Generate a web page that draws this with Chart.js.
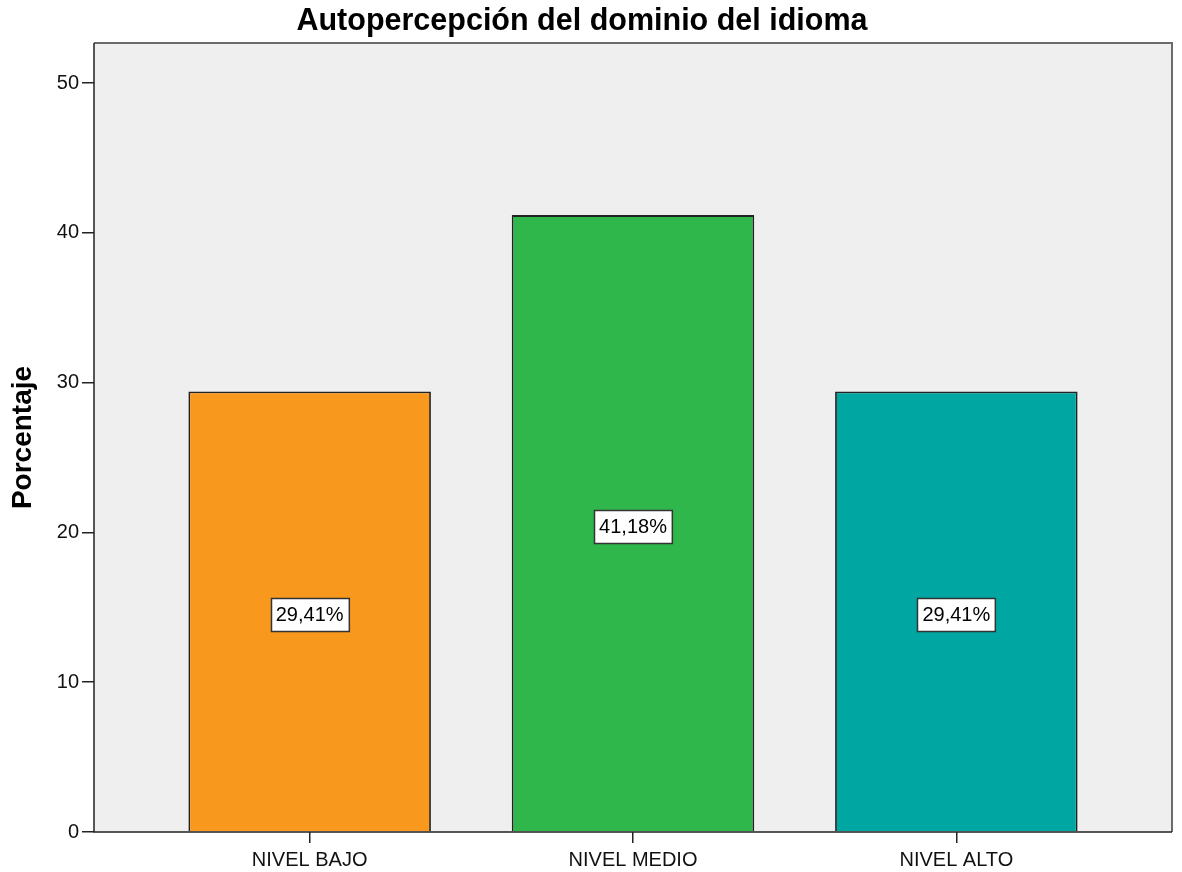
<!DOCTYPE html>
<html>
<head>
<meta charset="utf-8">
<script src="https://cdn.jsdelivr.net/npm/chart.js@4/dist/chart.umd.min.js"></script>
<style>
html,body{margin:0;padding:0;background:#fff;}
#wrap{width:1182px;height:872px;position:relative;}
</style>
</head>
<body>
<div id="wrap"><canvas id="c" width="1182" height="872"></canvas></div>
<script>
const titleText = 'Autopercepción del dominio del idioma';
const yTitle = 'Porcentaje';
const categories = ['NIVEL BAJO', 'NIVEL MEDIO', 'NIVEL ALTO'];
const values = [29.41, 41.18, 29.41];
const valueLabels = ['29,41%', '41,18%', '29,41%'];
const barColors = ['#F8981D', '#2FB74B', '#00A6A1'];
const yTicks = [0, 10, 20, 30, 40, 50];

const FONT = '"Liberation Sans", Arial, sans-serif';

const framePlugin = {
  id: 'frame',
  beforeDraw(chart) {
    const {ctx, chartArea: a} = chart;
    ctx.save();
    ctx.fillStyle = '#EFEFEF';
    ctx.fillRect(a.left, a.top, a.right - a.left, a.bottom - a.top);
    ctx.restore();
  },
  afterDraw(chart) {
    const {ctx, chartArea: a} = chart;
    ctx.save();
    ctx.strokeStyle = '#6b6b6b';
    ctx.lineWidth = 2;
    ctx.beginPath();
    ctx.moveTo(a.left, a.top);
    ctx.lineTo(a.right, a.top);
    ctx.lineTo(a.right, a.bottom);
    ctx.stroke();
    ctx.strokeStyle = '#222';
    ctx.lineWidth = 1.5;
    ctx.beginPath();
    ctx.moveTo(a.left, a.top);
    ctx.lineTo(a.left, a.bottom);
    ctx.lineTo(a.right, a.bottom);
    ctx.stroke();
    // title
    ctx.fillStyle = '#000';
    ctx.font = 'bold 30.5px ' + FONT;
    ctx.textAlign = 'center';
    ctx.textBaseline = 'middle';
    ctx.fillText(titleText, 582, 22);
    // value labels
    const meta = chart.getDatasetMeta(0);
    const ys = chart.scales.y;
    ctx.font = '20px ' + FONT;
    meta.data.forEach((bar, i) => {
      const cy = ys.getPixelForValue(values[i] / 2) + 3;
      const txt = valueLabels[i];
      const w = ctx.measureText(txt).width + 10;
      const h = 33;
      const x0 = Math.round(bar.x - w / 2) + 0.5;
      const y0 = Math.round(cy - h / 2) + 0.5;
      ctx.fillStyle = '#fff';
      ctx.fillRect(x0, y0, w, h);
      ctx.strokeStyle = '#333';
      ctx.lineWidth = 1.5;
      ctx.strokeRect(x0, y0, w, h);
      ctx.fillStyle = '#000';
      ctx.fillText(txt, bar.x, cy + 1);
    });
    ctx.restore();
  }
};

new Chart(document.getElementById('c'), {
  type: 'bar',
  data: {
    datasets: [{
      data: values.map((v, i) => ({x: i, y: v})),
      backgroundColor: barColors,
      borderColor: '#222',
      borderWidth: 1.8,
      borderSkipped: 'bottom',
      barPercentage: 0.75,
      categoryPercentage: 1.0
    }]
  },
  options: {
    responsive: false,
    animation: false,
    layout: {padding: {top: 43, right: 10, left: 0, bottom: 0}},
    plugins: {legend: {display: false}, tooltip: {enabled: false}, title: {display: false}},
    scales: {
      x: {
        type: 'linear',
        offset: false,
        min: -0.667,
        max: 2.667,
        afterBuildTicks(s) { s.ticks = categories.map((c, i) => ({value: i})); },
        afterFit(s) { s.height = 40; },
        ticks: {
          callback: (v) => categories[v],
          font: {family: FONT, size: 20},
          color: '#111',
          padding: 5,
          maxRotation: 0,
          autoSkip: false
        },
        grid: {offset: false, drawOnChartArea: false, drawTicks: true, tickLength: 11, color: '#222', lineWidth: 1.5},
        border: {display: false}
      },
      y: {
        min: 0,
        max: 52.67,
        afterBuildTicks(s) { s.ticks = yTicks.map(v => ({value: v})); },
        afterFit(s) { s.width = 94; },
        ticks: {
          font: {family: FONT, size: 20},
          color: '#111',
          padding: 3
        },
        title: {
          display: true,
          text: yTitle,
          font: {family: FONT, size: 28, weight: 'bold'},
          color: '#000',
          padding: {top: 6, bottom: 0}
        },
        grid: {drawOnChartArea: false, drawTicks: true, tickLength: 12, color: '#222', lineWidth: 1.5},
        border: {display: false}
      }
    }
  },
  plugins: [framePlugin]
});
</script>
</body>
</html>
